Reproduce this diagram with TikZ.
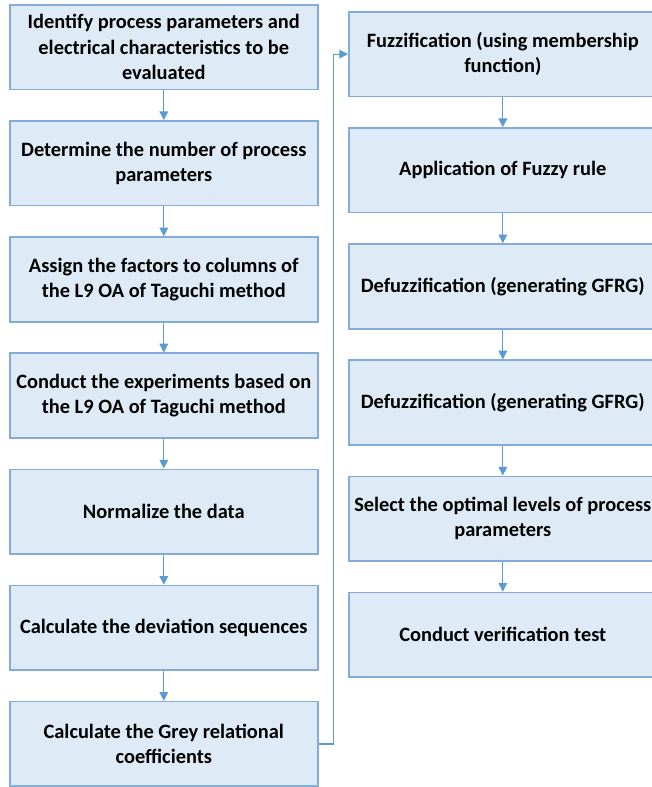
\documentclass[tikz,border=0pt]{standalone}
\usepackage{fontspec}
\setmainfont{Carlito}
\usepackage{xcolor}
\usetikzlibrary{arrows.meta,positioning}
\definecolor{stepfill}{HTML}{DEEBF7}
\definecolor{stepdraw}{HTML}{85ABD8}
\definecolor{flowblue}{HTML}{5B9BD5}

\begin{document}
\begin{tikzpicture}[
  x=0.75pt,y=-0.75pt,
  node distance=22.4pt,
  stepbox/.style={draw=stepdraw,line width=1.2pt,fill=stepfill,align=center,
                  minimum width=231pt,minimum height=63.5pt,inner sep=0pt,
                  font=\bfseries\fontsize{15.3}{19}\selectfont},
  flow/.style={flowblue,line width=0.9pt,-{Triangle[length=6.5pt,width=6.5pt]}}
]
  \useasboundingbox (0,0) rectangle (651,787);

  % Grey relational analysis
  \node[stepbox,anchor=north west] (identify) at (9,4)
    {Identify process parameters and\\electrical characteristics to be\\evaluated};
  \node[stepbox,below=of identify] (count) {Determine the number of process\\parameters};
  \node[stepbox,below=of count] (assign) {Assign the factors to columns of\\the L9 OA of Taguchi method};
  \node[stepbox,below=of assign] (conduct) {Conduct the experiments based on\\the L9 OA of Taguchi method};
  \node[stepbox,below=of conduct] (normalize) {Normalize the data};
  \node[stepbox,below=of normalize] (deviation) {Calculate the deviation sequences};
  \node[stepbox,below=of deviation] (grey) {Calculate the Grey relational\\coefficients};

  % Fuzzy part
  \node[stepbox,anchor=north west] (fuzzy) at (348,11) {Fuzzification (using membership\\function)};
  \node[stepbox,below=of fuzzy] (rule) {Application of Fuzzy rule};
  \node[stepbox,below=of rule] (defuzzA) {Defuzzification (generating GFRG)};
  \node[stepbox,below=of defuzzA] (defuzzB) {Defuzzification (generating GFRG)};
  \node[stepbox,below=of defuzzB] (optimal) {Select the optimal levels of process\\parameters};
  \node[stepbox,below=of optimal] (verify) {Conduct verification test};

  \draw[flow] (identify) -- (count);
  \draw[flow] (count) -- (assign);
  \draw[flow] (assign) -- (conduct);
  \draw[flow] (conduct) -- (normalize);
  \draw[flow] (normalize) -- (deviation);
  \draw[flow] (deviation) -- (grey);
  \draw[flow] (grey.east) -- ++(15,0) |- (fuzzy.west);
  \draw[flow] (fuzzy) -- (rule);
  \draw[flow] (rule) -- (defuzzA);
  \draw[flow] (defuzzA) -- (defuzzB);
  \draw[flow] (defuzzB) -- (optimal);
  \draw[flow] (optimal) -- (verify);
\end{tikzpicture}
\end{document}
